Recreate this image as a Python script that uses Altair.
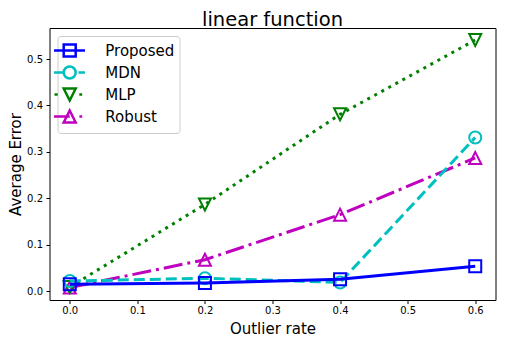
import altair as alt
import pandas as pd

# ---- data ----
rates = [0.0, 0.2, 0.4, 0.6]
series_names = ["Proposed", "MDN", "MLP", "Robust"]
proposed = [0.015, 0.018, 0.026, 0.054]
mdn = [0.022, 0.028, 0.019, 0.331]
mlp = [0.009, 0.187, 0.381, 0.541]
robust = [0.008, 0.068, 0.165, 0.287]
colors = ["#0000ff", "#00bfbf", "#008000", "#bf00bf"]
x_ticks = [0.0, 0.1, 0.2, 0.3, 0.4, 0.5, 0.6]
y_ticks = [0.0, 0.1, 0.2, 0.3, 0.4, 0.5]

values = {"Proposed": proposed, "MDN": mdn, "MLP": mlp, "Robust": robust}
rows = []
for name in series_names:
    for r, v in zip(rates, values[name]):
        rows.append({"rate": r, "err": v, "series": name})
df = pd.DataFrame(rows)

FONT = "DejaVu Sans"

# marker outlines (unit paths)
SQUARE = "M-1,-1H1V1H-1Z"
CIRCLE = "M1,0A1,1 0 1,1 -1,0A1,1 0 1,1 1,0Z"
TRI_DOWN = "M-1,-1H1L0,1Z"
TRI_UP = "M0,-1L1,1H-1Z"

# legend symbols: line sample + marker
m = 0.75
LEG = {
    "Proposed": f"M-1.96,0H1.91 M-{m},-{m}H{m}V{m}H-{m}Z",
    "MDN": f"M-1.96,0H-0.6 M1.1,0H1.91 M{m},0A{m},{m} 0 1,1 -{m},0A{m},{m} 0 1,1 {m},0Z",
    "MLP": f"M-1.9,0H-1.5 M1.2,0H1.56 M-{m},-{m}H{m}L0,{m}Z",
    "Robust": f"M-1.96,0H0 M1.21,0H1.56 M0,-{m}L{m},{m}H-{m}Z",
}

styles = {
    "Proposed": dict(dash=None, shape=SQUARE),
    "MDN": dict(dash=[11, 5], shape=CIRCLE),
    "MLP": dict(dash=[3, 5], shape=TRI_DOWN),
    "Robust": dict(dash=[19, 5, 3, 5], shape=TRI_UP),
}
color_of = dict(zip(series_names, colors))

x_enc = alt.X(
    "rate:Q",
    scale=alt.Scale(domain=[-0.03, 0.63], nice=False, zero=False),
    axis=alt.Axis(values=x_ticks, format=".1f", title="Outlier rate",
                  titleY=33, titleBaseline="alphabetic"),
)
y_enc = alt.Y(
    "err:Q",
    scale=alt.Scale(domain=[-0.0188, 0.5668], nice=False, zero=False),
    axis=alt.Axis(values=y_ticks, format=".1f", title="Average Error",
                  titleX=-29.5, titleY=136, titleBaseline="alphabetic"),
)

base = alt.Chart(df)
layers = []
for name in ["Robust", "MLP", "MDN", "Proposed"]:
    st = styles[name]
    c = color_of[name]
    line_kw = dict(color=c, strokeWidth=3)
    if st["dash"]:
        line_kw["strokeDash"] = st["dash"]
    line = base.transform_filter(alt.datum.series == name).mark_line(**line_kw).encode(
        x=x_enc, y=y_enc)
    pts = base.transform_filter(alt.datum.series == name).mark_point(
        shape=st["shape"], size=144, filled=False, strokeWidth=2, color=c, opacity=1
    ).encode(x=x_enc, y=y_enc)
    layers += [line, pts]

legend_layer = base.mark_point(opacity=0, filled=False, size=256, strokeWidth=2.5).encode(
    x=x_enc, y=y_enc,
    color=alt.Color("series:N", scale=alt.Scale(domain=series_names, range=colors),
                    legend=alt.Legend(title=None)),
    shape=alt.Shape("series:N", scale=alt.Scale(domain=series_names,
                                                range=[LEG[n] for n in series_names]),
                    legend=alt.Legend(title=None)),
)
layers.append(legend_layer)

chart = alt.layer(*layers).properties(
    width=446, height=272,
    padding={"left": 41.5, "top": 20, "right": 2.5, "bottom": 40},
    autosize=alt.AutoSizeParams(type="none"),
    title=alt.TitleParams("linear function", fontSize=19.5, font=FONT, fontWeight="normal",
                          anchor="middle", offset=0, dy=2.5, color="black"),
).configure_view(
    stroke="black", strokeWidth=1
).configure_axis(
    grid=False, domain=False, tickColor="black", tickSize=3.5, tickWidth=1,
    labelFont=FONT, labelFontSize=10, labelColor="black", labelPadding=2,
    titleFont=FONT, titleFontSize=15, titleFontWeight="normal", titleColor="black",
).configure_axisY(labelPadding=3.5).configure_legend(
    orient="top-left", offset=8, padding=5, rowPadding=-1,
    strokeColor="#cccccc", fillColor="rgba(255,255,255,0.8)", cornerRadius=3,
    symbolSize=256, symbolStrokeWidth=2.5, symbolOpacity=1, symbolOffset=-2.3,
    labelOffset=26.1, labelFont=FONT, labelFontSize=15, labelColor="black",
)

chart.save("out.html", embed_options={"renderer": "svg", "actions": False})
